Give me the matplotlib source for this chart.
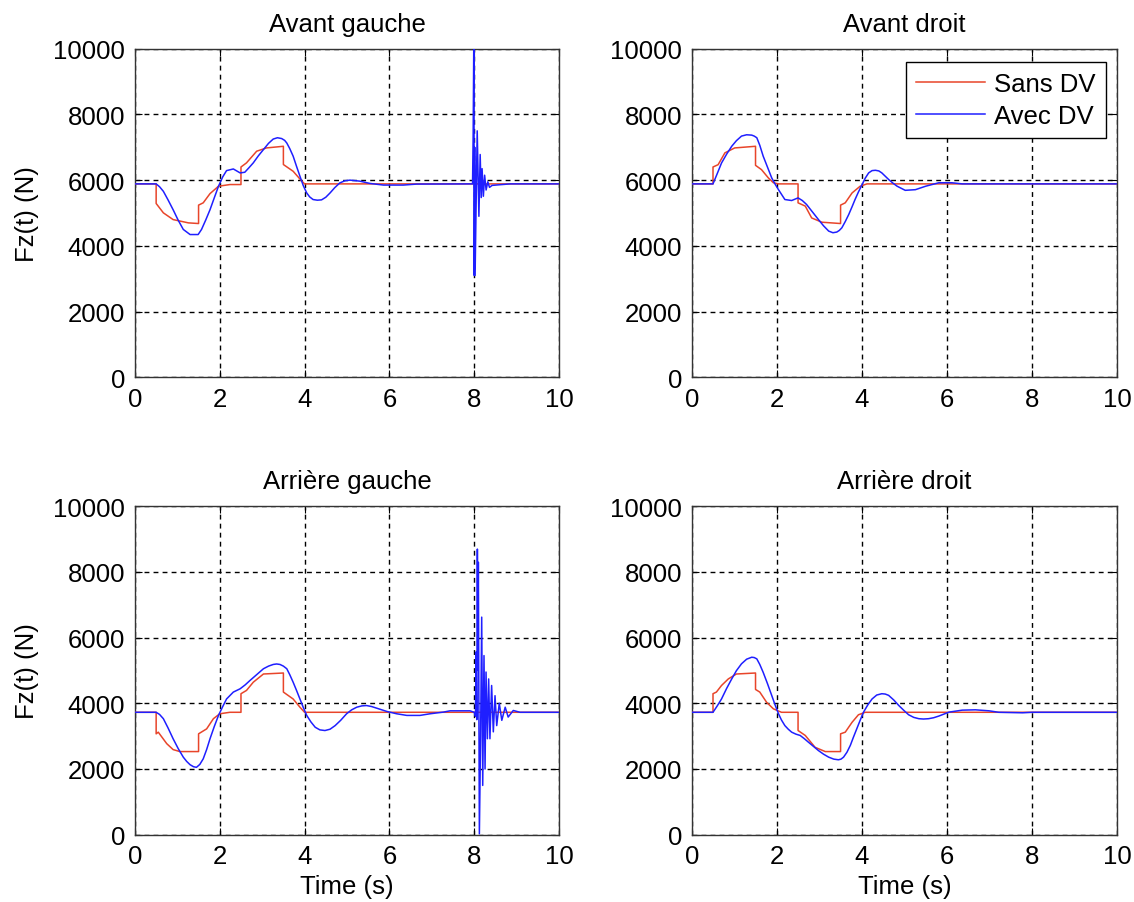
import matplotlib
matplotlib.use("Agg")
import matplotlib.pyplot as plt

plt.rcParams['font.family'] = ['Liberation Sans', 'DejaVu Sans']

# --- data (time in s, force in N) ---
titles = ["Avant gauche", "Avant droit", "Arrière gauche", "Arrière droit"]
series_labels = ["Sans DV", "Avec DV"]

# Avant gauche
t_sans_ag = [0, 0.5, 0.5, 0.67, 0.9, 1.26, 1.5, 1.5, 1.61, 1.77, 1.97, 2.24, 2.5, 2.5,
             2.63, 2.87, 3.1, 3.5, 3.5, 3.73, 3.9, 4.0, 10]
f_sans_ag = [5886, 5886, 5290, 5005, 4800, 4700, 4680, 5240, 5310, 5590, 5815, 5866, 5866, 6400,
             6525, 6880, 6980, 7030, 6475, 6270, 6020, 5886, 5886]
t_avec_ag = [0, 0.5, 0.58, 0.67, 0.78, 0.9, 1.02, 1.14, 1.3, 1.49, 1.57, 1.67, 1.77, 1.87,
             1.97, 2.07, 2.16, 2.32, 2.48, 2.59, 2.69, 2.79, 2.91, 3.03, 3.15, 3.26, 3.36,
             3.46, 3.53, 3.58, 3.65, 3.73, 3.81, 3.89, 3.97, 4.05, 4.12, 4.2, 4.3, 4.4,
             4.5, 4.6, 4.71, 4.83, 4.95, 5.07, 5.3, 5.54, 5.86, 6.33, 6.64, 7.96, 7.975,
             7.99, 7.995, 8.0, 8.01, 8.02, 8.07, 8.11, 8.14, 8.165, 8.185, 8.215, 8.245,
             8.28, 8.32, 8.36, 8.42, 8.6, 8.85, 10]
f_avec_ag = [5886, 5886, 5800, 5660, 5400, 5100, 4780, 4500, 4345, 4345, 4500, 4790, 5100, 5460,
             5815, 6100, 6290, 6340, 6220, 6240, 6380, 6525, 6740, 6930, 7120, 7250, 7290,
             7265, 7210, 7130, 6960, 6730, 6420, 6120, 5830, 5610, 5490, 5410, 5390, 5400,
             5480, 5610, 5770, 5915, 5980, 6000, 5970, 5900, 5850, 5850, 5880, 5886, 7400,
             10300, 7950, 3100, 7000, 3100, 7500, 4900, 6780, 5470, 6350, 5510, 6150,
             5700, 5950, 5780, 5840, 5860, 5886, 5886]

# Avant droit
t_sans_ad = [0, 0.5, 0.5, 0.62, 0.78, 1.01, 1.5, 1.5, 1.64, 1.8, 1.92, 2.04, 2.5, 2.5,
             2.67, 2.82, 3.06, 3.5, 3.5, 3.61, 3.77, 3.96, 4.12, 10]
f_sans_ad = [5886, 5886, 6400, 6470, 6830, 6980, 7030, 6450, 6320, 6070, 5920, 5886, 5886, 5310,
             5210, 4850, 4720, 4680, 5240, 5310, 5610, 5815, 5886, 5886]
t_avec_ad = [0, 0.5, 0.6, 0.7, 0.82, 0.94, 1.05, 1.17, 1.29, 1.41, 1.47, 1.53, 1.6, 1.68,
             1.78, 1.88, 1.96, 2.04, 2.19, 2.35, 2.5, 2.6, 2.7, 2.84, 2.98, 3.1, 3.22,
             3.32, 3.41, 3.47, 3.53, 3.61, 3.69, 3.77, 3.84, 3.92, 4.0, 4.08, 4.16, 4.24,
             4.32, 4.4, 4.47, 4.55, 4.63, 4.73, 4.83, 5.02, 5.26, 5.5, 5.81, 6.12, 6.36, 10]
f_avec_ad = [5886, 5886, 6200, 6520, 6790, 7030, 7200, 7340, 7380, 7370, 7340, 7290, 7060, 6730,
             6400, 6070, 5880, 5710, 5410, 5380, 5460, 5380, 5260, 5030, 4800, 4610, 4450,
             4400, 4420, 4470, 4550, 4740, 4950, 5190, 5410, 5640, 5850, 6060, 6220, 6290,
             6300, 6280, 6220, 6120, 6020, 5910, 5815, 5690, 5710, 5815, 5920, 5920, 5886, 5886]

# Arriere gauche
t_sans_rg = [0, 0.5, 0.5, 0.55, 0.75, 0.9, 1.06, 1.5, 1.5, 1.69, 1.85, 2.0, 2.24, 2.5, 2.5,
             2.63, 2.79, 3.03, 3.5, 3.5, 3.73, 3.89, 4.0, 10]
f_sans_rg = [3725, 3725, 3070, 3120, 2770, 2590, 2530, 2530, 3070, 3220, 3530, 3680, 3725, 3725, 4290,
             4390, 4640, 4890, 4920, 4340, 4130, 3880, 3725, 3725]
t_avec_rg = [0, 0.5, 0.58, 0.67, 0.78, 0.9, 1.02, 1.14, 1.22, 1.3, 1.38, 1.45, 1.53, 1.61,
             1.69, 1.77, 1.87, 1.97, 2.07, 2.16, 2.32, 2.48, 2.6, 2.71, 2.87, 3.03, 3.15,
             3.26, 3.34, 3.42, 3.5, 3.58, 3.65, 3.73, 3.81, 3.89, 3.97, 4.05, 4.15, 4.25,
             4.36, 4.48, 4.6, 4.72, 4.85, 4.99, 5.11, 5.23, 5.35, 5.46, 5.58, 5.7, 5.82,
             5.94, 6.17, 6.41, 6.72, 6.96, 7.27, 7.43, 7.9, 8.0, 8.03, 8.042, 8.06,
             8.074, 8.085, 8.097, 8.121, 8.15, 8.176, 8.2, 8.23, 8.255, 8.278, 8.31, 8.34,
             8.37, 8.41, 8.45, 8.49, 8.53, 8.59, 8.65, 8.73, 8.8, 8.92, 9.08, 10]
f_avec_rg = [3725, 3725, 3660, 3530, 3250, 2920, 2620, 2360, 2230, 2130, 2070, 2050, 2140, 2310,
             2590, 2920, 3290, 3630, 3900, 4130, 4340, 4440, 4560, 4690, 4870, 5050, 5130,
             5180, 5195, 5180, 5130, 5050, 4870, 4640, 4390, 4130, 3870, 3630, 3430, 3270,
             3190, 3170, 3210, 3320, 3480, 3680, 3800, 3880, 3920, 3930, 3900, 3850, 3800,
             3750, 3680, 3630, 3630, 3680, 3730, 3770, 3770, 3725, 3600, 5560, 3500,
             8690, 5000, 8290, 30, 3000, 6620, 1500, 5450, 2000, 4950, 2920, 4740,
             2920, 4540, 3130, 4230, 3320, 4000, 3480, 3880, 3580, 3780, 3725, 3725]

# Arriere droit
t_sans_rd = [0, 0.5, 0.5, 0.58, 0.7, 0.86, 1.05, 1.5, 1.5, 1.6, 1.76, 1.92, 2.11, 2.5, 2.5,
             2.67, 2.9, 3.14, 3.5, 3.5, 3.61, 3.77, 3.92, 4.08, 10]
f_sans_rd = [3725, 3725, 4290, 4340, 4540, 4740, 4890, 4920, 4420, 4340, 4030, 3830, 3725, 3725, 3170,
             3020, 2660, 2530, 2530, 3070, 3120, 3420, 3650, 3725, 3725]
t_avec_rd = [0, 0.5, 0.6, 0.7, 0.82, 0.94, 1.05, 1.17, 1.29, 1.41, 1.47, 1.53, 1.6, 1.68,
             1.78, 1.88, 1.96, 2.04, 2.11, 2.19, 2.27, 2.35, 2.45, 2.55, 2.64, 2.74, 2.86,
             2.98, 3.1, 3.22, 3.34, 3.45, 3.51, 3.57, 3.65, 3.73, 3.8, 3.88, 3.96, 4.04,
             4.14, 4.24, 4.35, 4.47, 4.55, 4.63, 4.75, 4.87, 4.99, 5.1, 5.22, 5.34, 5.45,
             5.57, 5.69, 5.81, 6.05, 6.36, 6.67, 6.99, 7.22, 7.78, 8.0, 10]
f_avec_rd = [3725, 3725, 3920, 4130, 4450, 4740, 4990, 5200, 5340, 5400, 5390, 5350, 5180, 4940,
             4600, 4240, 3950, 3680, 3490, 3320, 3210, 3120, 3060, 3020, 2930, 2820, 2690,
             2560, 2450, 2360, 2300, 2280, 2300, 2360, 2510, 2720, 2960, 3220, 3480, 3730,
             3950, 4130, 4250, 4290, 4280, 4240, 4100, 3930, 3780, 3650, 3570, 3530, 3520,
             3530, 3560, 3610, 3730, 3790, 3800, 3770, 3725, 3710, 3725, 3725]

panels = [
    (t_sans_ag, f_sans_ag, t_avec_ag, f_avec_ag),
    (t_sans_ad, f_sans_ad, t_avec_ad, f_avec_ad),
    (t_sans_rg, f_sans_rg, t_avec_rg, f_avec_rg),
    (t_sans_rd, f_sans_rd, t_avec_rd, f_avec_rd),
]

red = "#e8452a"
blue = "#1f1fff"
fs = 18.5

fig = plt.figure(figsize=(11.34, 9.03), dpi=100)
positions = [
    [0.119, 0.581, 0.374, 0.364],
    [0.610, 0.581, 0.375, 0.364],
    [0.119, 0.0745, 0.374, 0.364],
    [0.610, 0.0745, 0.375, 0.364],
]

for i, (ts, fs_, ta, fa) in enumerate(panels):
    ax = fig.add_axes(positions[i])
    ax.plot(ts, fs_, color=red, lw=1.1, label=series_labels[0], zorder=3)
    ax.plot(ta, fa, color=blue, lw=1.1, label=series_labels[1], zorder=4)
    ax.set_xlim(0, 10)
    ax.set_ylim(0, 10000)
    ax.set_xticks(range(0, 11, 2))
    ax.set_yticks(range(0, 10001, 2000))
    ax.grid(True, color="black", linestyle=(0, (3.5, 3)), linewidth=1.0)
    ax.set_axisbelow(True)
    ax.tick_params(direction="in", top=True, right=True, length=5, width=0.8,
                   labelsize=fs, pad=7)
    for sp in ax.spines.values():
        sp.set_color("#333333")
        sp.set_linewidth(1.0)
    ax.set_title(titles[i], fontsize=fs, pad=13)
    if i % 2 == 0:
        ax.set_ylabel("Fz(t) (N)", fontsize=fs, labelpad=10)
    if i >= 2:
        ax.set_xlabel("Time (s)", fontsize=fs, labelpad=4)
    if i == 1:
        leg = ax.legend(loc="upper right", bbox_to_anchor=(0.974, 0.960), borderaxespad=0,
                        fontsize=fs, handlelength=2.7, handletextpad=0.35,
                        labelspacing=0.3, borderpad=0.4, fancybox=False,
                        framealpha=1, edgecolor="black")
        leg.get_frame().set_linewidth(1.0)

fig.savefig("out.png", dpi=100)
